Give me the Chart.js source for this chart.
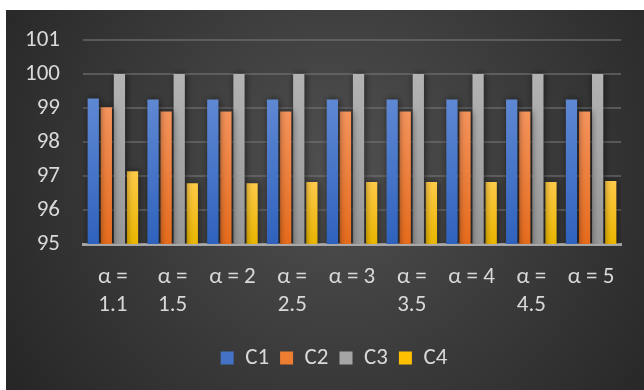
<!DOCTYPE html>
<html>
<head>
<meta charset="utf-8">
<script src="https://cdn.jsdelivr.net/npm/chart.js@4.4.1/dist/chart.umd.min.js"></script>
<style>
  html, body { margin: 0; padding: 0; background: #ffffff; }
  #wrap { position: absolute; left: 6px; top: 10px; width: 638px; height: 380px; }
</style>
</head>
<body>
<div id="wrap"><canvas id="chart_alphaScores"></canvas></div>
<script>
var categories = [
  ['α =', '1.1'], ['α =', '1.5'], 'α = 2', ['α =', '2.5'], 'α = 3',
  ['α =', '3.5'], 'α = 4', ['α =', '4.5'], 'α = 5'
];
var c1Values = [99.28, 99.25, 99.25, 99.25, 99.25, 99.25, 99.25, 99.25, 99.25];
var c2Values = [99.02, 98.9, 98.9, 98.9, 98.9, 98.9, 98.9, 98.9, 98.9];
var c3Values = [100, 100, 100, 100, 100, 100, 100, 100, 100];
var c4Values = [97.14, 96.79, 96.79, 96.82, 96.82, 96.82, 96.82, 96.82, 96.85];

var textColor = '#d9d9d9';
var fontFamily = 'Carlito, Lato, sans-serif';

// top colour, bottom colour, legend colour
var palette = {
  C1: ['#5f88d3', '#2f62bd', '#4472c4'],
  C2: ['#f4935c', '#e56b1c', '#ed7d31'],
  C3: ['#b3b3b3', '#979797', '#a5a5a5'],
  C4: ['#ffca48', '#e9b500', '#ffc000']
};

function barGradient(name) {
  return function(context) {
    var chart = context.chart;
    var area = chart.chartArea;
    if (!area || context.parsed === undefined) return palette[name][2];
    var top = chart.scales.y.getPixelForValue(context.parsed.y);
    var g = chart.ctx.createLinearGradient(0, top, 0, area.bottom);
    g.addColorStop(0, palette[name][0]);
    g.addColorStop(1, palette[name][1]);
    return g;
  };
}

function makeDataset(name, values) {
  return {
    label: name,
    data: values,
    backgroundColor: barGradient(name),
    borderWidth: 0,
    categoryPercentage: 0.876,
    barPercentage: 0.86
  };
}

var chart_alphaScores = new Chart(document.getElementById('chart_alphaScores'), {
  type: 'bar',
  data: {
    labels: categories,
    datasets: [
      makeDataset('C1', c1Values),
      makeDataset('C2', c2Values),
      makeDataset('C3', c3Values),
      makeDataset('C4', c4Values)
    ]
  },
  options: {
    animation: false,
    responsive: true,
    maintainAspectRatio: false,
    layout: { padding: { left: 18, right: 0, top: 30, bottom: 10.5 } },
    plugins: {
      title: { display: false },
      tooltip: { enabled: false },
      legend: {
        position: 'bottom',
        labels: {
          color: textColor,
          boxWidth: 13,
          boxHeight: 13,
          padding: 11,
          font: { family: fontFamily, size: 23 },
          generateLabels: function(chart) {
            var items = Chart.defaults.plugins.legend.labels.generateLabels(chart);
            items.forEach(function(item) {
              item.fillStyle = palette[item.text][2];
              item.strokeStyle = palette[item.text][2];
              item.lineWidth = 0;
            });
            return items;
          }
        }
      }
    },
    scales: {
      x: {
        z: 1,
        grid: { display: false, drawTicks: false },
        border: { display: true, color: 'rgba(190,190,190,0.8)', width: 3 },
        ticks: {
          color: textColor,
          font: { family: fontFamily, size: 23, lineHeight: 1.22 },
          padding: 19,
          maxRotation: 0,
          autoSkip: false
        },
        afterFit: function(scale) { scale.height = 91.5; }
      },
      y: {
        min: 95,
        max: 101,
        grid: { color: 'rgba(115,115,115,0.6)', lineWidth: 2, drawTicks: false },
        border: { display: false },
        ticks: {
          stepSize: 1,
          color: textColor,
          font: { family: fontFamily, size: 23, lineHeight: 0.61 },
          padding: 23
        },
        afterFit: function(scale) { scale.width = 59; }
      },
      // empty right-hand spacer so the plot ends where the reference does
      yRight: {
        position: 'right',
        grid: { display: false, drawTicks: false },
        border: { display: false },
        ticks: { display: false },
        afterFit: function(scale) { scale.width = 23; }
      }
    }
  },
  plugins: [{
    id: 'darkBackground',
    beforeDraw: function(chart) {
      var ctx = chart.ctx;
      var w = chart.width, h = chart.height;
      ctx.save();
      var g = ctx.createRadialGradient(w * 0.52, h * 0.42, 0, w * 0.52, h * 0.42, w * 0.62);
      g.addColorStop(0, '#505050');
      g.addColorStop(1, '#262626');
      ctx.fillStyle = g;
      ctx.fillRect(0, 0, w, h);
      ctx.restore();
    },
    beforeDatasetsDraw: function(chart) {
      var ctx = chart.ctx;
      ctx.save();
      ctx.shadowColor = 'rgba(0,0,0,0.55)';
      ctx.shadowBlur = 7;
      ctx.shadowOffsetX = 1;
      ctx.shadowOffsetY = 0;
    },
    afterDatasetsDraw: function(chart) {
      chart.ctx.restore();
    }
  }]
});
</script>
</body>
</html>
